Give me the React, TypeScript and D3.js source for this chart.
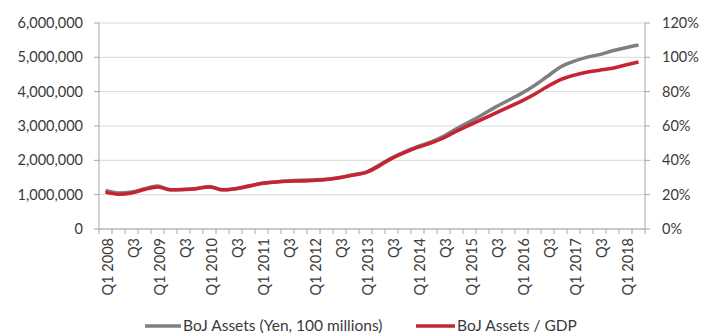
import React from "react";
import * as d3 from "d3";

const quarters: string[] = [];
for (let y = 2008; y <= 2018; y++) for (let q = 1; q <= 4; q++) quarters.push(`Q${q} ${y}`);
const categories = quarters.slice(0, 42);

const tickLabels = categories.map((c, i) => (i % 4 === 0 ? c : i % 4 === 2 ? "Q3" : ""));

const assets = [
  1.12, 1.05, 1.08, 1.17, 1.25, 1.14, 1.15, 1.18, 1.24, 1.14,
  1.17, 1.24, 1.33, 1.37, 1.4, 1.42, 1.43, 1.45, 1.5, 1.58,
  1.65, 1.85, 2.07, 2.25, 2.4, 2.53, 2.7, 2.92, 3.12, 3.33,
  3.55, 3.75, 3.95, 4.18, 4.45, 4.72, 4.88, 5.0, 5.08, 5.19,
  5.28, 5.36,
].map((v) => v * 1000000);

const assetsGdp = [
  21.5, 20.3, 21, 23, 24.5, 22.8, 23, 23.5, 24.5, 22.8,
  23.5, 25, 26.5, 27.3, 27.8, 28, 28.3, 28.8, 29.8, 31.3,
  32.8, 36.5, 41, 44.5, 47.5, 50, 53, 57, 60.5, 64,
  67.5, 71, 74.5, 78.5, 83, 87, 89.5, 91.3, 92.5, 93.6,
  95.5, 97.3,
];

const leftTicks = [0, 1000000, 2000000, 3000000, 4000000, 5000000, 6000000];
const rightTicks = [0, 20, 40, 60, 80, 100, 120];
const seriesNames = ["BoJ Assets (Yen, 100 millions)", "BoJ Assets / GDP"];

const W = 701, H = 334;
const L = 99, R = 645, T = 23, B = 229;
const FONT = "Lato, 'Open Sans', sans-serif";
const TXT = "#3a3a3a";
const GRAY = "#7f7f7f";
const RED = "#c52430";

export default function App() {
  const x = d3.scaleBand<string>().domain(categories).range([L, R]);
  const yL = d3.scaleLinear().domain([0, 6000000]).range([B, T]);
  const yR = d3.scaleLinear().domain([0, 120]).range([B, T]);
  const cx = (c: string) => (x(c) as number) + x.bandwidth() / 2;
  const fmt = d3.format(",");

  const lineL = d3.line<number>().x((_, i) => cx(categories[i])).y((d) => yL(d)).curve(d3.curveMonotoneX);
  const lineR = d3.line<number>().x((_, i) => cx(categories[i])).y((d) => yR(d)).curve(d3.curveMonotoneX);

  return (
    <svg width={W} height={H} style={{ position: "absolute", left: 0, top: 0, background: "#fff" }}>
      {leftTicks.map((t) => (
        <line key={"g" + t} x1={L} x2={R} y1={yL(t)} y2={yL(t)} stroke="#d9d9d9" strokeWidth={1} />
      ))}
      <line x1={L} x2={L} y1={T} y2={B} stroke="#a6a6a6" />
      <line x1={R} x2={R} y1={T} y2={B} stroke="#a6a6a6" />
      <line x1={L} x2={R} y1={B} y2={B} stroke="#a6a6a6" />
      {leftTicks.map((t) => (
        <g key={"l" + t}>
          <line x1={L - 5} x2={L} y1={yL(t)} y2={yL(t)} stroke="#a6a6a6" />
          <text x={L - 16} y={yL(t)} dy="0.35em" textAnchor="end" fontSize={14.5} fill={TXT} fontFamily={FONT}>
            {fmt(t)}
          </text>
        </g>
      ))}
      {rightTicks.map((t) => (
        <g key={"r" + t}>
          <line x1={R} x2={R + 5} y1={yR(t)} y2={yR(t)} stroke="#a6a6a6" />
          <text x={R + 17} y={yR(t)} dy="0.35em" textAnchor="start" fontSize={14.5} fill={TXT} fontFamily={FONT}>
            {t + "%"}
          </text>
        </g>
      ))}
      {categories.map((c) => (
        <line key={"t" + c} x1={x(c) as number} x2={x(c) as number} y1={B} y2={B + 5} stroke="#a6a6a6" />
      ))}
      <line x1={R} x2={R} y1={B} y2={B + 5} stroke="#a6a6a6" />
      {categories.map((c, i) =>
        tickLabels[i] ? (
          <text
            key={"xl" + c}
            transform={`translate(${cx(c) + 2},${B + 9}) rotate(-90)`}
            dy="0.35em"
            textAnchor="end"
            fontSize={14.5}
            fill={TXT}
            fontFamily={FONT}
          >
            {tickLabels[i]}
          </text>
        ) : null
      )}
      <path d={lineL(assets) || ""} fill="none" stroke={GRAY} strokeWidth={3.5} strokeLinejoin="round" />
      <path d={lineR(assetsGdp) || ""} fill="none" stroke={RED} strokeWidth={3.5} strokeLinejoin="round" />
      <g fontFamily={FONT} fontSize={15.5} fill={TXT}>
        <line x1={145} x2={181} y1={326} y2={326} stroke={GRAY} strokeWidth={3.5} />
        <text x={183} y={326} dy="0.35em">{seriesNames[0]}</text>
        <line x1={416} x2={455} y1={326} y2={326} stroke={RED} strokeWidth={3.5} />
        <text x={457} y={326} dy="0.35em">{seriesNames[1]}</text>
      </g>
    </svg>
  );
}
